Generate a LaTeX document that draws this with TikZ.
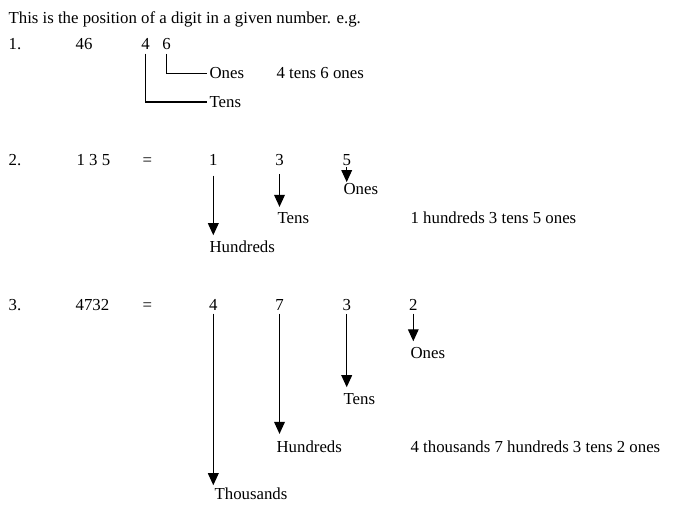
\documentclass[tikz,border=0pt]{standalone}
\usepackage{fontspec}
\setmainfont{Liberation Serif}
\usetikzlibrary{arrows.meta}

\begin{document}
\begin{tikzpicture}[x=0.75pt, y=-0.75pt, line width=0.9pt,
    every node/.style={inner sep=0pt, anchor=base west, font=\fontsize{12.6}{14}\selectfont},
    digit node/.style={anchor=base},
    place arrow/.style={-{Triangle[width=8pt,length=9pt]}, shorten <=2.25pt, shorten >=3.75pt}]
    \useasboundingbox (0,0) rectangle (677,513);
    \node (title) at (8,23.5) {This is the position of a digit in a given number. e.g.};
    % first example
    \node (no1) at (8,50) {1.};
    \node (num1) at (75,50) {46};
    \node[digit node] (a1) at (145.5,50) {4};
    \node[digit node] (a2) at (166.5,50) {6};
    \node (ones1) at (209,79) {Ones};
    \node (tens1) at (209,107.5) {Tens};
    \node (sum1) at (276,79) {4 tens 6 ones};
    \draw[shorten <=2.25pt, shorten >=1.5pt] (a1.south) |- (tens1.west);
    \draw[shorten <=2.25pt, shorten >=1.5pt] (a2.south) |- (ones1.west);
    % second example
    \node (no2) at (8,166) {2.};
    \node (num2) at (76,166) {1 3 5};
    \node (eq2) at (142,166) {=};
    \foreach \d/\x [count=\i] in {1/213.3,3/279.5,5/346.7}
        \node[digit node] (b\i) at (\x,166) {\d};
    \node (hund2) at (209,252.5) {Hundreds};
    \node (tens2) at (277,223.5) {Tens};
    \node (ones2) at (343,194.5) {Ones};
    \node (sum2) at (410,223.5) {1 hundreds 3 tens 5 ones};
    \draw[place arrow, shorten <=6.75pt] (b1.south) -- (b1.south |- hund2.north);
    \draw[place arrow, shorten <=5.25pt] (b2.south) -- (b2.south |- tens2.north);
    \draw[place arrow, shorten <=0.5pt, shorten >=0.5pt] (b3.south) -- (b3.south |- ones2.north);
    % third example
    \node (no3) at (8,310) {3.};
    \node (num3) at (75,310) {4732};
    \node (eq3) at (142,310) {=};
    \foreach \d/\x [count=\i] in {4/213.3,7/279.5,3/346.7,2/413.3}
        \node[digit node] (c\i) at (\x,310) {\d};
    \node (thou3) at (214,499.5) {Thousands};
    \node (hund3) at (276,452.5) {Hundreds};
    \node (tens3) at (343,404.5) {Tens};
    \node (ones3) at (410,358) {Ones};
    \node (sum3) at (410,452.5) {4 thousands 7 hundreds 3 tens 2 ones};
    \draw[place arrow, shorten >=1.5pt] (c1.south) -- (c1.south |- thou3.north);
    \draw[place arrow, shorten >=4.75pt] (c2.south) -- (c2.south |- hund3.north);
    \draw[place arrow, shorten >=4.25pt] (c3.south) -- (c3.south |- tens3.north);
    \draw[place arrow] (c4.south) -- (c4.south |- ones3.north);
\end{tikzpicture}
\end{document}
